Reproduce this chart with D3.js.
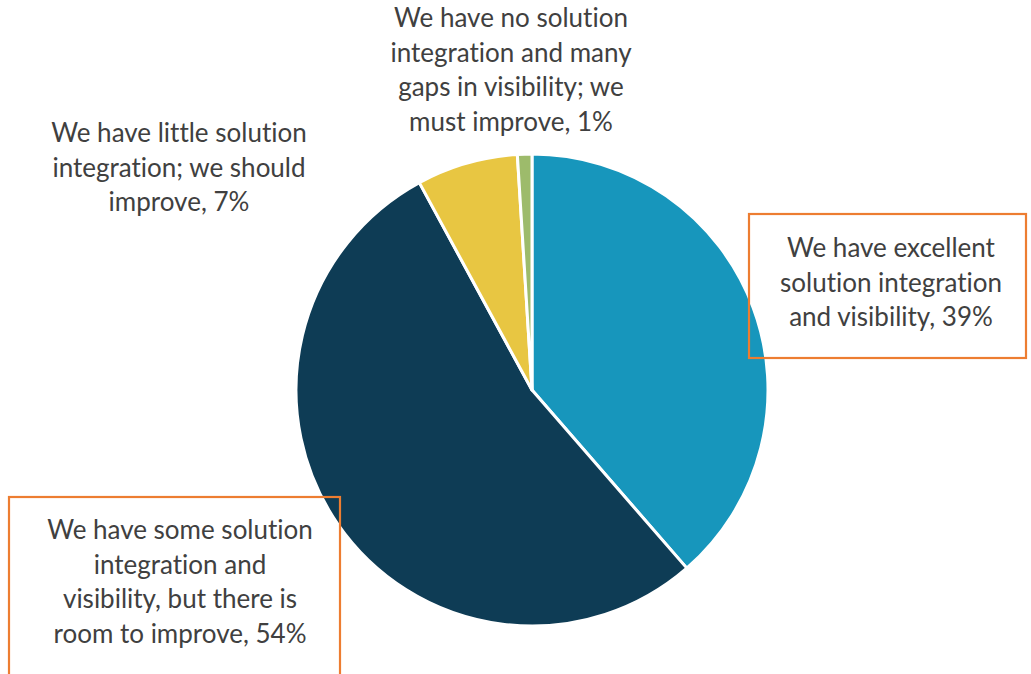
<!DOCTYPE html>
<html>
<head>
<meta charset="utf-8">
<script src="https://cdn.jsdelivr.net/npm/d3@7"></script>
<style>
  html, body { margin: 0; padding: 0; background: #fff; }
  svg { display: block; }
  text { font-family: "Lato", "Open Sans", sans-serif; fill: #404040; font-variant-ligatures: none; }
</style>
</head>
<body>
<svg id="chart" width="1031" height="674"></svg>
<script>
// Survey responses: solution integration and visibility
const categories = [
  "We have excellent solution integration and visibility",
  "We have some solution integration and visibility, but there is room to improve",
  "We have little solution integration; we should improve",
  "We have no solution integration and many gaps in visibility; we must improve"
];
const values = [39, 54, 7, 1];
const colors = ["#1796BC", "#0E3C55", "#E8C642", "#9DBB6B"];

// Label lines as wrapped in the chart
const labelLines = [
  ["We have excellent", "solution integration", "and visibility, 39%"],
  ["We have some solution", "integration and", "visibility, but there is", "room to improve, 54%"],
  ["We have little solution", "integration; we should", "improve, 7%"],
  ["We have no solution", "integration and many", "gaps in visibility; we", "must improve, 1%"]
];
// Label placement: text centre x, first line y, optional callout box
const labelLayout = [
  { x: 891, y: 248, box: { x: 749, y: 214, w: 277, h: 144 } },
  { x: 180, y: 530, box: { x: 9, y: 497, w: 331, h: 190 } },
  { x: 179, y: 133 },
  { x: 511, y: 18 }
];

const svg = d3.select("#chart");
const cx = 532, cy = 390, r = 236;

const pie = d3.pie().value(d => d).sort(null);
const arc = d3.arc().innerRadius(0).outerRadius(r);

const g = svg.append("g").attr("transform", `translate(${cx},${cy})`);
g.selectAll("path")
  .data(pie(values))
  .join("path")
  .attr("d", arc)
  .attr("fill", (d, i) => colors[i])
  .attr("stroke", "#fff")
  .attr("stroke-width", 3)
  .attr("stroke-linejoin", "round");

const lineH = 34.5;
const labels = svg.append("g");
labelLayout.forEach((L, i) => {
  if (L.box) {
    labels.append("rect")
      .attr("x", L.box.x).attr("y", L.box.y)
      .attr("width", L.box.w).attr("height", L.box.h)
      .attr("fill", "none")
      .attr("stroke", "#ED7D31")
      .attr("stroke-width", 2.2);
  }
  const t = labels.append("text")
    .attr("text-anchor", "middle")
    .attr("font-size", 26);
  labelLines[i].forEach((line, j) => {
    t.append("tspan")
      .attr("x", L.x)
      .attr("y", L.y + j * lineH)
      .attr("dy", "0.35em")
      .text(line);
  });
});
</script>
</body>
</html>
